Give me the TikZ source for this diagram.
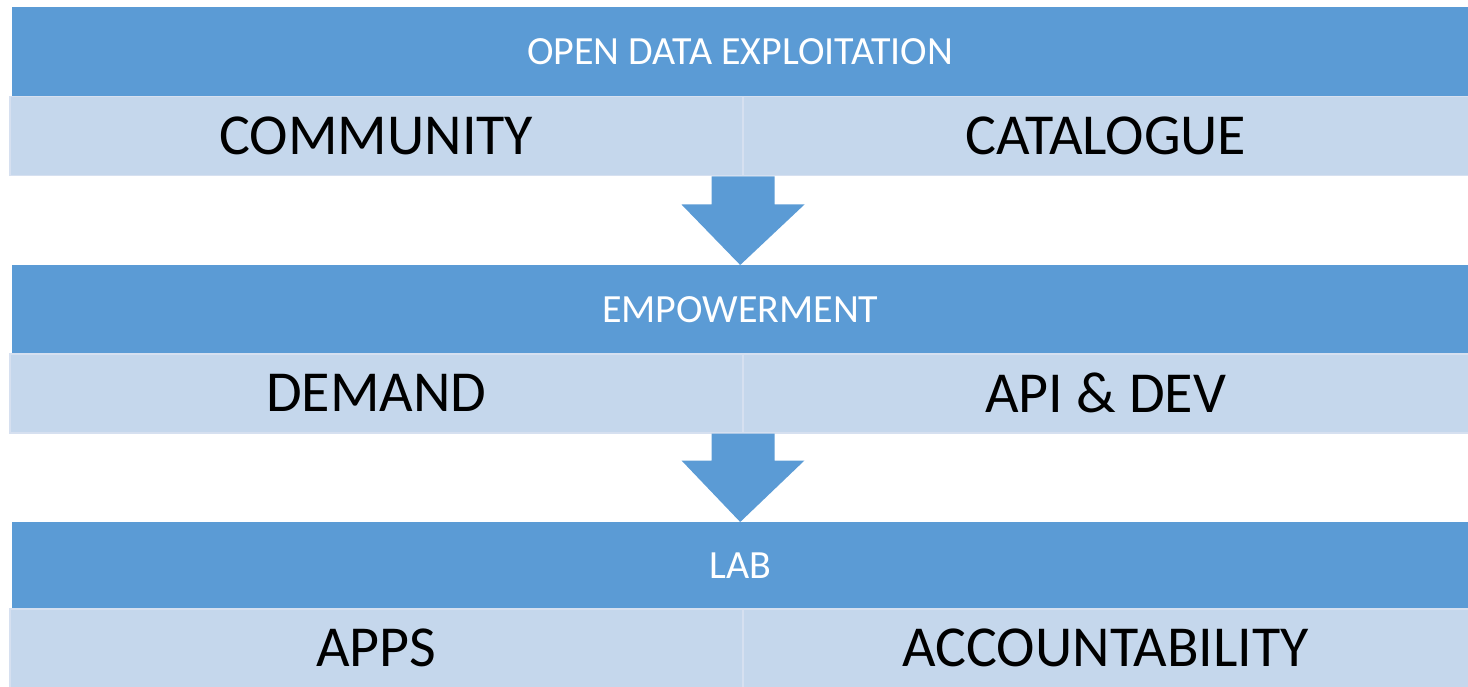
\documentclass[tikz,border=0pt]{standalone}
\usepackage{fontspec}
\setmainfont{Carlito}
\definecolor{darkband}{RGB}{91,155,213}
\definecolor{lightcell}{RGB}{197,215,236}
\definecolor{cellline}{RGB}{214,224,240}
\tikzset{
  band/.style={fill=darkband, inner sep=0pt, anchor=north west, minimum height=89pt, minimum width=1456pt, text=white, font=\fontsize{40}{42}\selectfont},
  cell/.style={fill=lightcell, draw=cellline, line width=1.5pt, inner sep=0pt, anchor=north west, minimum height=79pt, text=black, font=\fontsize{58}{60}\selectfont},
  flowarrow/.style={fill=darkband}
}
\begin{document}
\begin{tikzpicture}[x=1pt,y=-1pt]
\useasboundingbox (0,0) rectangle (1468,687);
% row 1
\node[band] (b1) at (12,7) {OPEN DATA EXPLOITATION};
\node[cell, minimum width=733pt] (c1l) at (9,96) {COMMUNITY};
\node[cell, minimum width=726pt] (c1r) at (742,96) {CATALOGUE};
% row 2
\node[band] (b2) at (12,265) {EMPOWERMENT};
\node[cell, minimum width=733pt] (c2l) at (9,353) {DEMAND};
\node[cell, minimum width=726pt] (c2r) at (742,353) {API \& DEV};
% row 3
\node[band, minimum height=86pt] (b3) at (12,522) {LAB};
\node[cell, minimum width=733pt] (c3l) at (9,608) {APPS};
\node[cell, minimum width=726pt] (c3r) at (742,608) {ACCOUNTABILITY};
% arrows
\fill[flowarrow] ([xshift=-32pt]c1l.south east) -- ([xshift=31pt]c1l.south east)
  -- ([xshift=31pt,yshift=-28pt]c1l.south east) -- ([xshift=61pt,yshift=-28pt]c1l.south east)
  -- (b2.north) -- ([xshift=-62pt,yshift=-28pt]c1l.south east)
  -- ([xshift=-32pt,yshift=-28pt]c1l.south east) -- cycle;
\fill[flowarrow] ([xshift=-32pt]c2l.south east) -- ([xshift=31pt]c2l.south east)
  -- ([xshift=31pt,yshift=-27pt]c2l.south east) -- ([xshift=61pt,yshift=-27pt]c2l.south east)
  -- (b3.north) -- ([xshift=-62pt,yshift=-27pt]c2l.south east)
  -- ([xshift=-32pt,yshift=-27pt]c2l.south east) -- cycle;
\end{tikzpicture}
\end{document}
